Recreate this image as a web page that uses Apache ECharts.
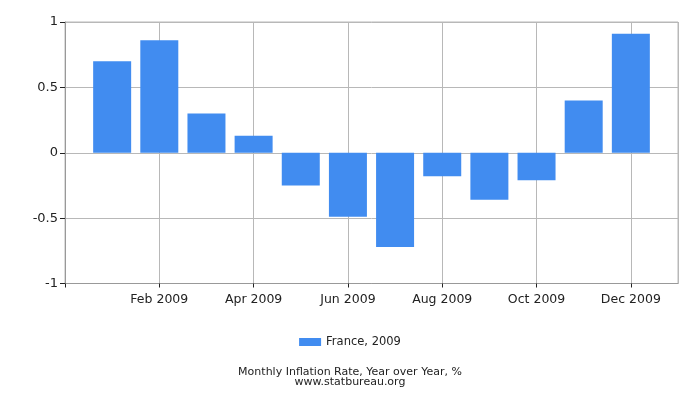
<!DOCTYPE html>
<html><head><meta charset="utf-8">
<script src="https://cdn.jsdelivr.net/npm/echarts@6/dist/echarts.min.js"></script>
<style>html,body{margin:0;padding:0;background:#fff}#c{width:700px;height:400px}</style>
</head><body><div id="c"></div>
<script>
const months = ['Jan 2009','Feb 2009','Mar 2009','Apr 2009','May 2009','Jun 2009','Jul 2009','Aug 2009','Sep 2009','Oct 2009','Nov 2009','Dec 2009'];
const values = [0.70, 0.86, 0.30, 0.13, -0.25, -0.49, -0.72, -0.18, -0.36, -0.21, 0.40, 0.91];
const seriesName = 'France, 2009';
const titleText = 'Monthly Inflation Rate, Year over Year, %';
const subText = 'www.statbureau.org';

const data = values.map((v, i) => [i + 1, v]);
const font = 'DejaVu Sans';
const chart = echarts.init(document.getElementById('c'), null, {renderer: 'canvas'});
chart.setOption({
  animation: false,
  textStyle: {fontFamily: font},
  grid: {left: 65, right: 22, top: 22, bottom: 116.5, show: true, borderColor: '#b8b8b8', borderWidth: 1},
  title: {
    text: titleText + '\n' + subText,
    left: 'center', top: 362,
    textStyle: {fontFamily: font, fontSize: 11, fontWeight: 'normal', color: '#222', lineHeight: 10}
  },
  legend: {
    data: [seriesName], top: 331, left: 'center',
    itemWidth: 22, itemHeight: 8, icon: 'rect', itemGap: 10,
    textStyle: {fontFamily: font, fontSize: 11.5, color: '#222'}
  },
  xAxis: {
    type: 'value', min: 0, max: 13, interval: 2,
    axisLine: {show: true, onZero: false, lineStyle: {color: '#999'}},
    axisTick: {show: true, length: 4, lineStyle: {color: '#222'}},
    axisLabel: {
      showMaxLabel: false, color: '#222', fontSize: 12.5, fontFamily: font, margin: 10,
      formatter: v => (v >= 1 && v <= 12) ? months[v - 1] : ''
    },
    splitLine: {show: true, lineStyle: {color: '#b8b8b8'}}
  },
  yAxis: {
    type: 'value', min: -1, max: 1, interval: 0.5,
    axisLine: {show: true, lineStyle: {color: '#999'}},
    axisTick: {show: true, length: 5, lineStyle: {color: '#222'}},
    axisLabel: {color: '#222', fontSize: 13, fontFamily: font, margin: 7},
    splitLine: {show: true, lineStyle: {color: '#b8b8b8'}}
  },
  series: [{
    name: seriesName, type: 'bar', data: data, barWidth: 38,
    itemStyle: {color: '#418CF0'}
  }]
});
</script></body></html>
